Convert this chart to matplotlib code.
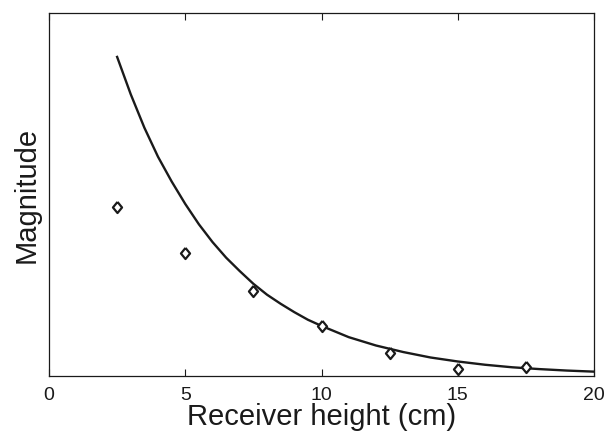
"""Magnitude versus receiver height: measured points and fitted decay."""
import matplotlib
matplotlib.use("Agg")
import matplotlib.pyplot as plt

# measured magnitudes
height_pts = [2.5, 5.0, 7.5, 10.0, 12.5, 15.0, 17.5]
magnitude_pts = [0.466, 0.339, 0.234, 0.138, 0.063, 0.019, 0.025]

# fitted curve
height_fit = [2.5, 3.0, 3.5, 4.0, 4.5, 5.0, 5.5, 6.0, 6.5, 7.0, 7.5, 8.0, 8.5,
              9.0, 9.5, 10.0, 11.0, 12.0, 13.0, 14.0, 15.0, 16.0, 17.0, 18.0,
              19.0, 20.0]
magnitude_fit = [0.879, 0.776, 0.684, 0.604, 0.536, 0.474, 0.418, 0.369, 0.326,
                 0.289, 0.254, 0.224, 0.199, 0.176, 0.155, 0.138, 0.107, 0.084,
                 0.066, 0.051, 0.040, 0.031, 0.024, 0.019, 0.015, 0.012]

x_ticks = [0, 5, 10, 15, 20]

plt.rcParams["font.family"] = ["Liberation Sans", "DejaVu Sans"]

# matlab-like diamond, a bit taller than wide
diamond = [(0, 1), (0.82, 0), (0, -1), (-0.82, 0), (0, 1)]

fig = plt.figure(figsize=(6.06, 4.33), dpi=100)
ax = fig.add_axes([49 / 606, 57 / 433, 545 / 606, 363 / 433])

ax.plot(height_fit, magnitude_fit, color="#1a1a1a", lw=1.7)
ax.plot(height_pts, magnitude_pts, linestyle="none", marker=diamond, ms=8,
        mfc="white", mec="#1a1a1a", mew=1.6)

ax.set_xlim(0, 20)
ax.set_ylim(0, 1)
ax.set_xticks(x_ticks)
ax.set_yticks([])
ax.tick_params(axis="x", direction="in", length=5, width=0.8, top=True,
               labelsize=14, pad=8, colors="#1a1a1a")
for sp in ax.spines.values():
    sp.set_linewidth(0.9)
    sp.set_color("#1a1a1a")

ax.set_xlabel("Receiver height (cm)", fontsize=21, labelpad=-1, color="#1a1a1a")
ax.set_ylabel("Magnitude", fontsize=21, labelpad=6, color="#1a1a1a")

fig.savefig("out.png", dpi=100)
